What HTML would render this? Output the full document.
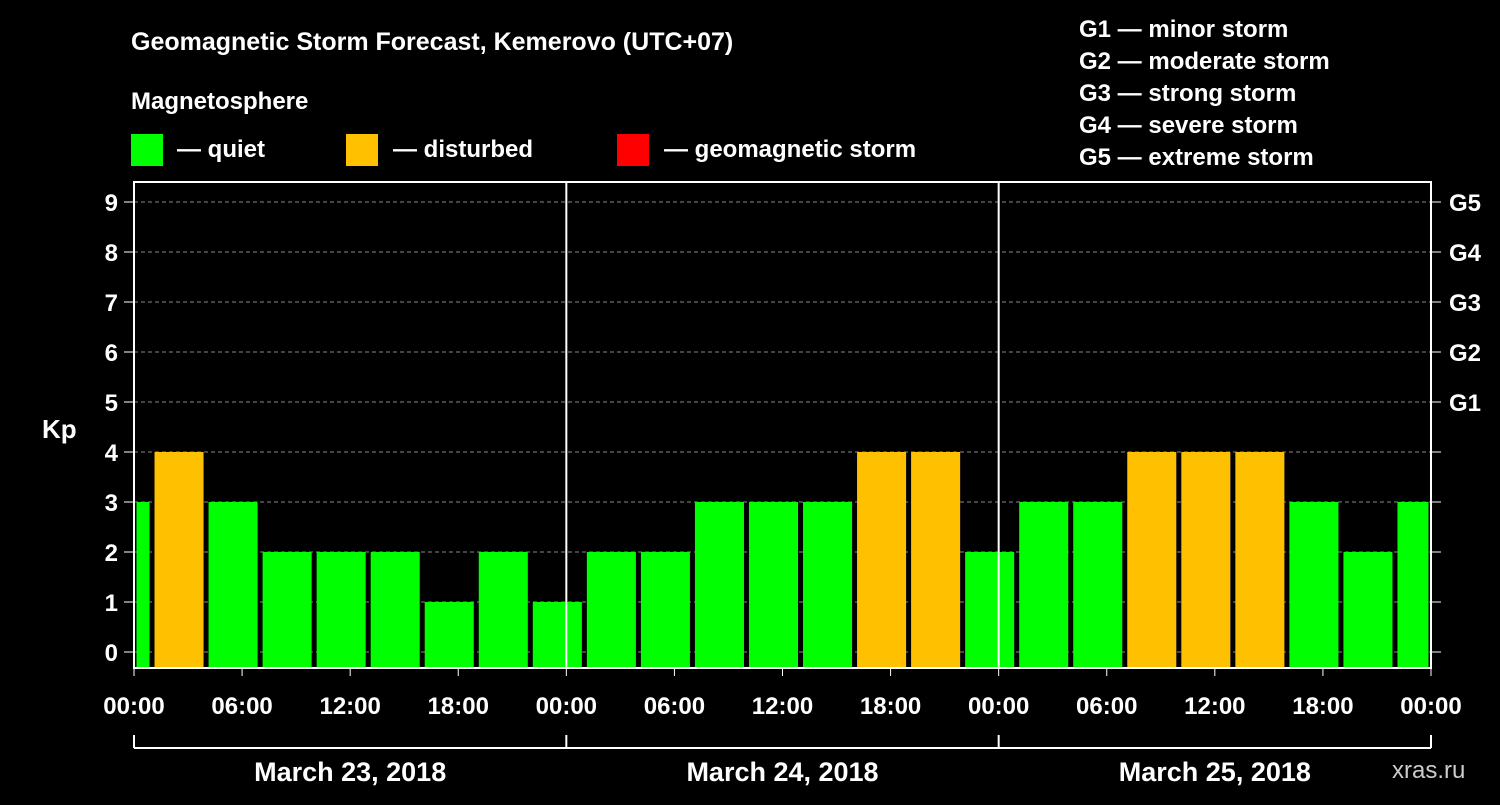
<!DOCTYPE html>
<html><head><meta charset="utf-8"><style>
body{margin:0;background:#000;width:1500px;height:800px;overflow:hidden}
svg text{font-family:"Liberation Sans",Arial,sans-serif;font-weight:bold;fill:#fff}
</style></head><body>
<svg id="c" width="1500" height="800" xmlns="http://www.w3.org/2000/svg">
<text x="131" y="50" font-size="25">Geomagnetic Storm Forecast, Kemerovo (UTC+07)</text>
<text x="131" y="109" font-size="24">Magnetosphere</text>
<rect x="131" y="134" width="32" height="32" fill="#00ff00"/>
<text x="177" y="157" font-size="24">— quiet</text>
<rect x="346" y="134" width="32" height="32" fill="#ffc000"/>
<text x="393" y="157" font-size="24">— disturbed</text>
<rect x="617" y="134" width="32" height="32" fill="#ff0000"/>
<text x="664" y="157" font-size="24">— geomagnetic storm</text>
<g font-size="24">
<text x="1079" y="37">G1 — minor storm</text>
<text x="1079" y="69">G2 — moderate storm</text>
<text x="1079" y="101">G3 — strong storm</text>
<text x="1079" y="133">G4 — severe storm</text>
<text x="1079" y="165">G5 — extreme storm</text>
</g>
<text x="42" y="438" font-size="26">Kp</text>
<text x="1392" y="778" font-size="24" fill="#ccc" style="fill:#ccc;font-weight:normal">xras.ru</text>
<g id="plot"></g>
</svg>
<script>
const binStartHours=[-2,1,4,7,10,13,16,19,22,25,28,31,34,37,40,43,46,49,52,55,58,61,64,67,70];
const kpValues=[3,4,3,2,2,2,1,2,1,2,2,3,3,3,4,4,2,3,3,4,4,4,3,2,3];
const xTickLabels=["00:00","06:00","12:00","18:00","00:00","06:00","12:00","18:00","00:00","06:00","12:00","18:00","00:00"];
const dayLabels=["March 23, 2018","March 24, 2018","March 25, 2018"];
const gLabels=["G1","G2","G3","G4","G5"];
const X0=134,X1=1431,TOP=182,BOT=668;
const x=h=>X0+(X1-X0)*h/72;
const y=k=>652-50*k;
const g=document.getElementById('plot');
const NS='http://www.w3.org/2000/svg';
function mk(t,a){const e=document.createElementNS(NS,t);for(const k in a)e.setAttribute(k,a[k]);g.appendChild(e);return e;}
for(let k=0;k<=9;k++){
 const l=mk('line',{x1:X0,x2:X1,y1:y(k),y2:y(k),stroke:'#888','stroke-dasharray':'4,3','stroke-width':1});
 
 
 const t=mk('text',{x:118,y:y(k)+9,'font-size':24,'text-anchor':'end'});t.textContent=k;
 
 
 mk('line',{x1:X0-10,x2:X0,y1:y(k),y2:y(k),stroke:'#fff'});
 mk('line',{x1:X1,x2:X1+10,y1:y(k),y2:y(k),stroke:'#fff'});
}
gLabels.forEach((s,i)=>{const t=mk('text',{x:1449,y:y(5+i)+9,'font-size':24});t.textContent=s;
 
 });
binStartHours.forEach((h,i)=>{
 const a=Math.max(x(h),X0)+2.5,b=Math.min(x(h+3),X1)-2.5,v=kpValues[i];
 const r=mk('rect',{x:a,y:y(v),width:b-a,height:BOT-y(v),fill:v>=5?'#ff0000':v>=4?'#ffc000':'#00ff00'});
 
 
});
[24,48].forEach(h=>mk('line',{x1:x(h),x2:x(h),y1:TOP,y2:BOT,stroke:'#fff','stroke-width':2}));
const fr=mk('rect',{x:X0,y:TOP,width:X1-X0,height:BOT-TOP,fill:'none',stroke:'#fff','stroke-width':2});


xTickLabels.forEach((s,i)=>{const xx=x(i*6);
 mk('line',{x1:xx,x2:xx,y1:BOT,y2:BOT+8,stroke:'#fff'});
 const t=mk('text',{x:xx,y:714,'font-size':24,'text-anchor':'middle'});t.textContent=s;
 
 });
mk('line',{x1:X0,x2:X1,y1:748,y2:748,stroke:'#fff','stroke-width':2});
[0,24,48,72].forEach(h=>mk('line',{x1:x(h),x2:x(h),y1:735,y2:748,stroke:'#fff','stroke-width':2}));
dayLabels.forEach((s,i)=>{const t=mk('text',{x:x(i*24+12),y:781,'font-size':27,'text-anchor':'middle'});t.textContent=s;
 
 });
</script>
</body></html>
